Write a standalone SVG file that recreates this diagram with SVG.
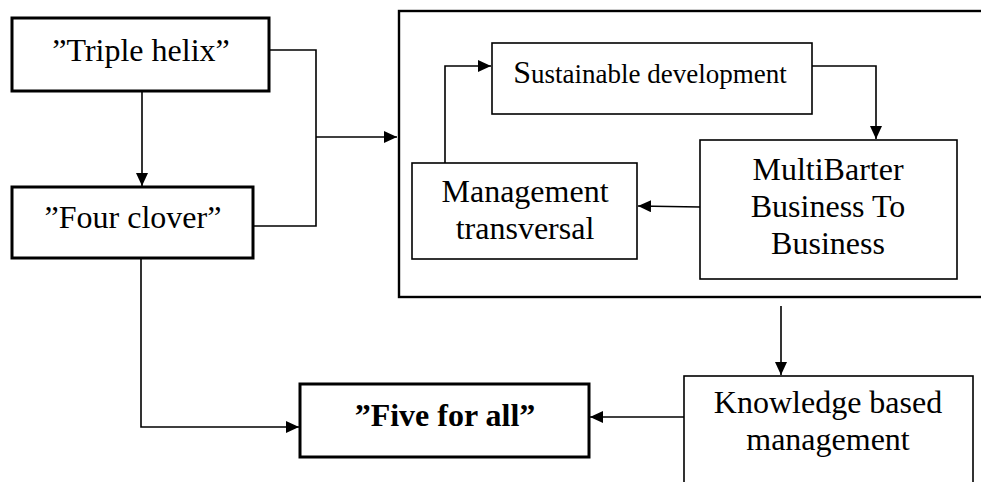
<svg xmlns="http://www.w3.org/2000/svg" width="981" height="482" viewBox="0 0 981 482">
  <style>
    text { font-family: 'Liberation Serif', Tinos, 'Times New Roman', Times, 'DejaVu Serif', serif; font-size: 32px; fill: #000; text-anchor: middle; }
    .bold { font-weight: bold; }
    .thick { fill: #fff; stroke: #000; stroke-width: 3; }
    .thin { fill: #fff; stroke: #000; stroke-width: 1.6; }
    .frame { fill: none; stroke: #000; stroke-width: 2.4; }
    .conn { fill: none; stroke: #000; stroke-width: 1.6; }
  </style>
  <defs>
    <marker id="arrow" markerUnits="userSpaceOnUse" markerWidth="14" markerHeight="12" refX="13" refY="6" orient="auto">
      <path d="M0,0 L13,6 L0,12 z" fill="#000"/>
    </marker>
  </defs>

  <rect width="981" height="482" fill="#fff"/>

  <!-- enclosing frame, open past the right edge -->
  <g id="frame">
    <rect class="frame" x="399" y="11" width="600" height="286"/>
  </g>

  <g id="connectors">
    <path class="conn" d="M142,91 L142,186" marker-end="url(#arrow)"/>
    <path class="conn" d="M269,50 L316,50 L316,226 L253,226"/>
    <path class="conn" d="M316,137 L397,137" marker-end="url(#arrow)"/>
    <path class="conn" d="M445,163 L445,66 L491,66" marker-end="url(#arrow)"/>
    <path class="conn" d="M812,66 L876,66 L876,139" marker-end="url(#arrow)"/>
    <path class="conn" d="M700,207 L638,206" marker-end="url(#arrow)"/>
    <path class="conn" d="M781,306 L781,375" marker-end="url(#arrow)"/>
    <path class="conn" d="M141,258 L141,427 L299,427" marker-end="url(#arrow)"/>
    <path class="conn" d="M684,417 L590,417" marker-end="url(#arrow)"/>
  </g>

  <g id="triple-helix">
    <rect class="thick" x="12" y="18" width="257" height="73"/>
    <text x="141" y="61" font-family="Liberation Serif, serif">”Triple helix”</text>
  </g>

  <g id="four-clover">
    <rect class="thick" x="12" y="187" width="241" height="71"/>
    <text x="133" y="228">”Four clover”</text>
  </g>

  <g id="sustainable-development">
    <rect class="thin" x="492" y="43" width="320" height="71"/>
    <text x="650" y="83" style="font-size:27px"><tspan style="font-size:32px">S</tspan>ustainable development</text>
  </g>

  <g id="management-transversal">
    <rect class="thin" x="412" y="163" width="225" height="96"/>
    <text x="525" y="202">Management</text>
    <text x="525" y="239">transversal</text>
  </g>

  <g id="multibarter">
    <rect class="thin" x="700" y="140" width="257" height="139"/>
    <text x="828" y="180">MultiBarter</text>
    <text x="828" y="217">Business To</text>
    <text x="828" y="254">Business</text>
  </g>

  <g id="five-for-all">
    <rect class="thick" x="300" y="384" width="289" height="73"/>
    <text class="bold" x="445" y="426">”Five for all”</text>
  </g>

  <g id="knowledge-based-management">
    <rect class="thin" x="684" y="376" width="289" height="120"/>
    <text x="828" y="413">Knowledge based</text>
    <text x="828" y="450">management</text>
  </g>
</svg>
